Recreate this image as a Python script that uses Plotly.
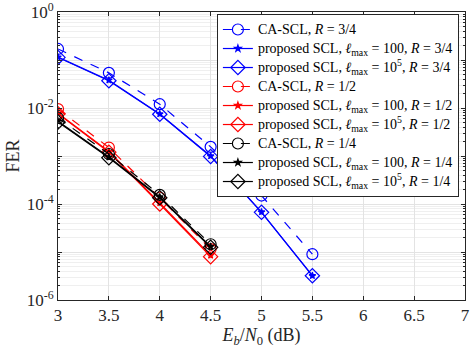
import plotly.graph_objects as go

# Eb/N0 points (dB)
snr_34 = [3, 3.5, 4, 4.5, 5, 5.5]
snr_12 = [3, 3.5, 4, 4.5]
snr_14 = [3, 3.5, 4, 4.5]

# FER
ca_34 = [0.17, 0.054, 0.012, 1.55e-3, 1.5e-4, 9.0e-6]
p100_34 = [0.115, 0.038, 7.5e-3, 1.0e-3, 6.8e-5, 3.2e-6]
p1e5_34 = [0.113, 0.037, 7.4e-3, 9.8e-4, 6.7e-5, 3.2e-6]

ca_12 = [9.5e-3, 1.5e-3, 1.35e-4, 1.15e-5]
p100_12 = [7.8e-3, 1.25e-3, 1.05e-4, 8.5e-6]
p1e5_12 = [7.6e-3, 1.2e-3, 1.0e-4, 8.0e-6]

ca_14 = [6.2e-3, 1.1e-3, 1.55e-4, 1.45e-5]
p100_14 = [5.3e-3, 9.5e-4, 1.4e-4, 1.3e-5]
p1e5_14 = [5.1e-3, 9.2e-4, 1.35e-4, 1.25e-5]

ell = "<i>ℓ</i><sub>max</sub>"
series = [
    (snr_34, ca_34, "CA-SCL, <i>R</i> = 3/4", "blue", "dash", "circle-open"),
    (snr_34, p100_34, f"proposed SCL, {ell} = 100, <i>R</i> = 3/4", "blue", "solid", "star"),
    (snr_34, p1e5_34, f"proposed SCL, {ell} = 10<sup>5</sup>, <i>R</i> = 3/4", "blue", "solid", "diamond-open"),
    (snr_12, ca_12, "CA-SCL, <i>R</i> = 1/2", "red", "dash", "circle-open"),
    (snr_12, p100_12, f"proposed SCL, {ell} = 100, <i>R</i> = 1/2", "red", "solid", "star"),
    (snr_12, p1e5_12, f"proposed SCL, {ell} = 10<sup>5</sup>, <i>R</i> = 1/2", "red", "solid", "diamond-open"),
    (snr_14, ca_14, "CA-SCL, <i>R</i> = 1/4", "black", "dash", "circle-open"),
    (snr_14, p100_14, f"proposed SCL, {ell} = 100, <i>R</i> = 1/4", "black", "solid", "star"),
    (snr_14, p1e5_14, f"proposed SCL, {ell} = 10<sup>5</sup>, <i>R</i> = 1/4", "black", "solid", "diamond-open"),
]

fig = go.Figure()
for x, y, name, col, dash, sym in series:
    size = 5 if sym == "star" else 11
    fig.add_trace(go.Scatter(
        x=x, y=y, mode="lines+markers",
        # small legend font keeps rows tight, span restores the visible size
        name=f'<span style="font-size:14px">{name}</span>',
        line=dict(color=col, width=1.2, dash=dash),
        marker=dict(symbol=sym, size=size, color=col, line=dict(color=col, width=1.2)),
    ))

major = [10.0 ** e for e in range(0, -7, -1)]
major_txt = ["10<sup>0</sup>", "", "10<sup>-2</sup>", "", "10<sup>-4</sup>", "", "10<sup>-6</sup>"]
minor = [k * 10.0 ** e for e in range(-6, 0) for k in range(2, 10)]

font = "Liberation Serif, Times New Roman, serif"
fig.update_layout(
    width=471, height=348,
    margin=dict(l=58, r=6, t=12, b=48, autoexpand=False),
    plot_bgcolor="white", paper_bgcolor="white",
    font=dict(family=font, size=17, color="#262626"),
    showlegend=True,
    legend=dict(
        x=0.985, y=0.993, xanchor="right", yanchor="top",
        bgcolor="white", bordercolor="#262626", borderwidth=1,
        font=dict(family=font, size=11, color="black"),
        tracegroupgap=0, itemwidth=30,
    ),
    xaxis=dict(
        range=[3, 7], tickvals=[3, 3.5, 4, 4.5, 5, 5.5, 6, 6.5, 7],
        ticktext=["3", "3.5", "4", "4.5", "5", "5.5", "6", "6.5", "7"],
        showgrid=True, gridcolor="#e3e3e3", gridwidth=1,
        showline=True, linecolor="#262626", linewidth=1, mirror="ticks",
        ticks="inside", ticklen=4, tickcolor="#262626", ticklabeloverflow="allow",
        zeroline=False, automargin=False,
        title=dict(text="<i>E</i><sub><i>b</i></sub>/<i>N</i><sub>0</sub> (dB)", standoff=2,
                   font=dict(size=18)),
    ),
    yaxis=dict(
        type="log", range=[-6, 0], tickvals=major, ticktext=major_txt,
        showgrid=True, gridcolor="#e3e3e3", gridwidth=1,
        showline=True, linecolor="#262626", linewidth=1, mirror="ticks",
        ticks="inside", ticklen=4, tickcolor="#262626", ticklabeloverflow="allow",
        minor=dict(tickvals=minor, showgrid=True, gridcolor="#efefef", ticks="inside",
                   ticklen=2, tickcolor="#262626"),
        zeroline=False, automargin=False,
        title=dict(text="FER", standoff=2, font=dict(size=18)),
    ),
)

fig.write_html("out.html", config={"displayModeBar": False},
               post_script="document.body.style.margin='0';")
